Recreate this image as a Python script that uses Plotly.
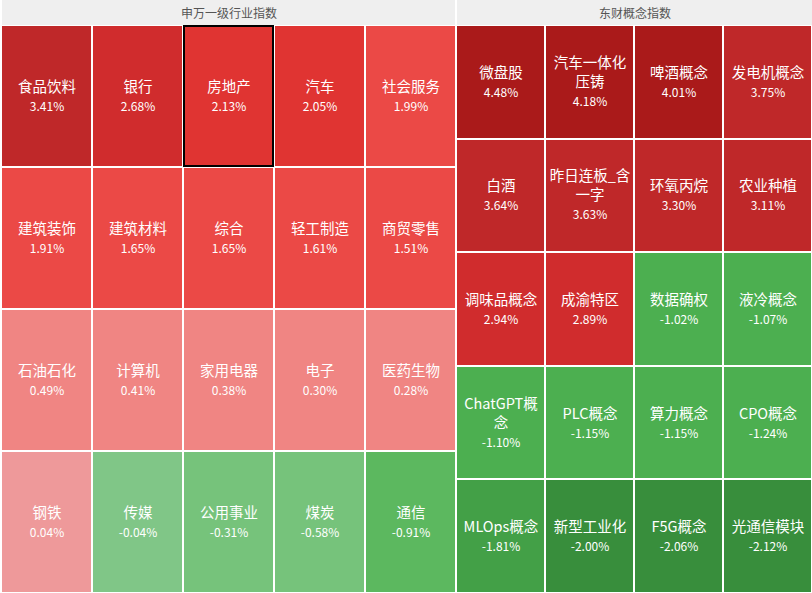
import plotly.graph_objects as go

# ---------------- data ----------------
sw_title = "申万一级行业指数"
sw_names = [
    "食品饮料", "银行", "房地产", "汽车", "社会服务",
    "建筑装饰", "建筑材料", "综合", "轻工制造", "商贸零售",
    "石油石化", "计算机", "家用电器", "电子", "医药生物",
    "钢铁", "传媒", "公用事业", "煤炭", "通信",
]
sw_values = [
    3.41, 2.68, 2.13, 2.05, 1.99,
    1.91, 1.65, 1.65, 1.61, 1.51,
    0.49, 0.41, 0.38, 0.30, 0.28,
    0.04, -0.04, -0.31, -0.58, -0.91,
]
sw_cols = 5
sw_highlight = "房地产"

em_title = "东财概念指数"
em_names = [
    "微盘股", "汽车一体化压铸", "啤酒概念", "发电机概念",
    "白酒", "昨日连板_含一字", "环氧丙烷", "农业种植",
    "调味品概念", "成渝特区", "数据确权", "液冷概念",
    "ChatGPT概念", "PLC概念", "算力概念", "CPO概念",
    "MLOps概念", "新型工业化", "F5G概念", "光通信模块",
]
em_values = [
    4.48, 4.18, 4.01, 3.75,
    3.64, 3.63, 3.30, 3.11,
    2.94, 2.89, -1.02, -1.07,
    -1.10, -1.15, -1.15, -1.24,
    -1.81, -2.00, -2.06, -2.12,
]
em_cols = 4

# display wrapping for long labels
wrap = {
    "汽车一体化压铸": "汽车一体化<br>压铸",
    "昨日连板_含一字": "昨日连板_含<br>一字",
    "ChatGPT概念": "ChatGPT概<br>念",
}

# ---------------- colour buckets ----------------
bucket_colors = [
    "#388e3c",  # <= -2
    "#43a047",  # (-2, -1.5]
    "#4caf50",  # (-1.5, -1]
    "#5cb85f",  # (-1, -0.75]
    "#76c37b",  # (-0.75, -0.25]
    "#80c687",  # (-0.25, 0)
    "#ee999a",  # [0, 0.25)
    "#f08583",  # [0.25, 1)
    "#eb4946",  # [1, 2)
    "#e03432",  # [2, 2.5)
    "#d02c2d",  # [2.5, 3)
    "#bf2829",  # [3, 4)
    "#aa1a1a",  # >= 4
]


def bucket(v):
    if v <= -2: return 0
    if v <= -1.5: return 1
    if v <= -1: return 2
    if v <= -0.75: return 3
    if v <= -0.25: return 4
    if v < 0: return 5
    if v < 0.25: return 6
    if v < 1: return 7
    if v < 2: return 8
    if v < 2.5: return 9
    if v < 3: return 10
    if v < 4: return 11
    return 12


n = len(bucket_colors)
colorscale = []
for i, c in enumerate(bucket_colors):
    colorscale.append([i / n, c])
    colorscale.append([(i + 1) / n, c])


def grid(names, values, cols):
    z, txt = [], []
    for r in range(len(names) // cols):
        zr, tr = [], []
        for c in range(cols):
            k = r * cols + c
            zr.append(bucket(values[k]))
            nm = wrap.get(names[k], names[k])
            tr.append(f"{nm}<br><span style='font-size:12px'>{values[k]:.2f}%</span>")
        z.append(zr)
        txt.append(tr)
    return z, txt


W, H = 812, 593
HEAD = 25
FONT = "Noto Sans CJK SC, Microsoft YaHei, sans-serif"

fig = go.Figure()
for idx, (names, values, cols) in enumerate(
        [(sw_names, sw_values, sw_cols), (em_names, em_values, em_cols)]):
    z, txt = grid(names, values, cols)
    sfx = "" if idx == 0 else str(idx + 1)
    fig.add_trace(go.Heatmap(
        z=z, text=txt, texttemplate="%{text}",
        textfont=dict(color="white", size=14.5, family=FONT),
        colorscale=colorscale, zmin=-0.5, zmax=n - 0.5,
        showscale=False, xgap=2, ygap=2,
        hoverinfo="text",
        xaxis="x" + sfx, yaxis="y" + sfx,
    ))

left_end = 456 / W
fig.update_layout(
    width=W, height=H,
    margin=dict(l=0, r=0, t=0, b=0),
    paper_bgcolor="white", plot_bgcolor="white",
    font=dict(family=FONT),
    xaxis=dict(domain=[1 / W, left_end], visible=False, range=[-0.5, sw_cols - 0.5], fixedrange=True),
    yaxis=dict(domain=[0, (H - HEAD) / H], visible=False,
               range=[len(sw_names) // sw_cols - 0.5, -0.5], fixedrange=True),
    xaxis2=dict(domain=[left_end, 1], visible=False, range=[-0.5, em_cols - 0.5], fixedrange=True),
    yaxis2=dict(domain=[0, (H - HEAD) / H], visible=False,
                range=[len(em_names) // em_cols - 0.5, -0.5], fixedrange=True),
    showlegend=False,
)

# header bars
shapes = [
    dict(type="rect", xref="paper", yref="paper", x0=2 / W, x1=455 / W,
         y0=(H - HEAD) / H, y1=1, fillcolor="#efefef", line_width=0, layer="below"),
    dict(type="rect", xref="paper", yref="paper", x0=457 / W, x1=1,
         y0=(H - HEAD) / H, y1=1, fillcolor="#efefef", line_width=0, layer="below"),
]
# highlight border
hk = sw_names.index(sw_highlight)
hr, hc = divmod(hk, sw_cols)
px_x = 1 / 91
px_y = 1 / 141.75
shapes.append(dict(type="rect", xref="x", yref="y",
                   x0=hc - 0.5 + px_x, x1=hc + 0.5 - px_x,
                   y0=hr - 0.5 + px_y, y1=hr + 0.5 - px_y,
                   line=dict(color="black", width=2), fillcolor="rgba(0,0,0,0)"))
fig.update_layout(shapes=shapes)

ann_font = dict(size=12, color="#555555", family=FONT)
fig.add_annotation(text=sw_title, xref="paper", yref="paper",
                   x=228.5 / W, y=1 - 12.5 / H, showarrow=False, font=ann_font,
                   xanchor="center", yanchor="middle")
fig.add_annotation(text=em_title, xref="paper", yref="paper",
                   x=634.5 / W, y=1 - 12.5 / H, showarrow=False, font=ann_font,
                   xanchor="center", yanchor="middle")

fig.write_html("out.html")
